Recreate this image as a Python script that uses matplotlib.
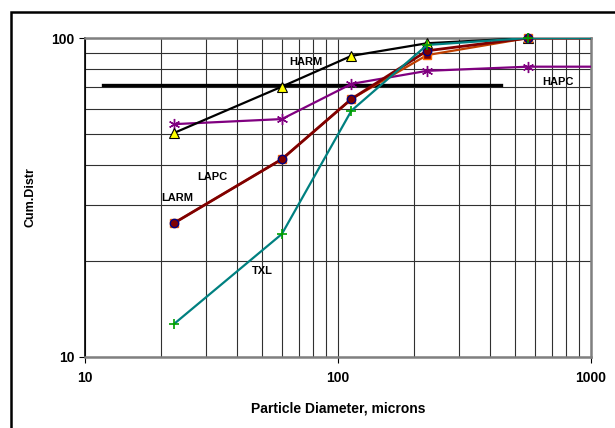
import matplotlib
matplotlib.use("Agg")
import matplotlib.pyplot as plt
from matplotlib.patches import Rectangle
from matplotlib.ticker import LogLocator, NullFormatter, FixedLocator

plt.rcParams["font.family"] = ["Liberation Sans", "DejaVu Sans"]
plt.rcParams["font.weight"] = "bold"

# --- data ---
diameter = [22.5, 60, 113, 225, 565, 1000]
harm = [50.4, 70.4, 87.9, 96.3, 100, 100]
lapc = [26.3, 41.7, 64.4, 88.4, 100, 100]
larm = [26.3, 41.7, 64.4, 91.2, 100, 100]
hapc = [53.7, 55.7, 71.8, 78.9, 81.3, 81.3]
txl = [12.7, 24.3, 59.2, 95.1, 100, 100]

ref_x = [11.8, 441]
ref_y = [71.1, 71.1]

labels = {
    "HARM": (64.4, 84.1),
    "LAPC": (27.7, 36.6),
    "LARM": (20.1, 31.5),
    "TXL": (45.6, 18.6),
    "HAPC": (641, 72.8),
}

fig = plt.figure(figsize=(6.15, 4.28), dpi=100)
ax = fig.add_axes([0.1382, 0.1659, 0.8228, 0.7453])

# outer chart frame
fig.patches.append(Rectangle((11 / 615, -0.05), 1.1, 1 - 12 / 428 + 0.05,
                             transform=fig.transFigure, fill=False,
                             edgecolor="black", linewidth=1.8))

ax.set_xscale("log")
ax.set_yscale("log")
ax.set_xlim(10, 1000)
ax.set_ylim(10, 100)

ax.xaxis.set_major_locator(FixedLocator([10, 100, 1000]))
ax.yaxis.set_major_locator(FixedLocator([10, 100]))
ax.xaxis.set_minor_locator(LogLocator(base=10, subs=range(2, 10)))
ax.yaxis.set_minor_locator(LogLocator(base=10, subs=range(2, 10)))
ax.xaxis.set_minor_formatter(NullFormatter())
ax.yaxis.set_minor_formatter(NullFormatter())
ax.set_xticklabels(["10", "100", "1000"])
ax.set_yticklabels(["10", "100"])

ax.grid(True, which="both", color="#303030", linewidth=0.8)
ax.set_axisbelow(True)
ax.tick_params(which="minor", length=0)
ax.tick_params(which="major", length=4, width=0.8, direction="out",
               labelsize=10, colors="black")
ax.tick_params(axis="x", pad=6)

for side in ("top", "right", "bottom"):
    ax.spines[side].set_color("#808080")
    ax.spines[side].set_linewidth(1.8)
ax.spines["left"].set_color("black")
ax.spines["left"].set_linewidth(1.2)

lw = 1.6
mk = 5  # markers only on measured points
ax.plot(ref_x, ref_y, color="black", linewidth=2.4, zorder=3)
series = [
    (hapc, dict(color="#800080", linewidth=lw, marker=(6, 2, 0), markersize=8,
                markeredgecolor="#800080", zorder=4)),
    (harm, dict(color="black", linewidth=lw, marker="^", markersize=7,
                markerfacecolor="#ffff00", markeredgecolor="black",
                markeredgewidth=0.8, zorder=4)),
    (lapc, dict(color="#c04000", linewidth=lw, marker="s", markersize=6,
                markerfacecolor="#800000", markeredgecolor="#ff6600", zorder=5)),
    (larm, dict(color="#800000", linewidth=lw + 0.4, marker="o", markersize=6,
                markerfacecolor="#800000", markeredgecolor="#000080", zorder=6)),
    (txl, dict(color="#008080", linewidth=lw, marker="+", markersize=7,
               markeredgecolor="#00a000", markeredgewidth=1.2, zorder=7)),
]
for values, style in series:
    # line clipped to the plot area, markers drawn unclipped on top
    ax.plot(diameter, values, color=style["color"],
            linewidth=style["linewidth"], zorder=style["zorder"])
    mstyle = {k: v for k, v in style.items() if k.startswith("marker")}
    ax.plot(diameter[:mk], values[:mk], linestyle="none", clip_on=False,
            zorder=style["zorder"] + 0.5, **mstyle)

for name, (x, y) in labels.items():
    ax.text(x, y, name, fontsize=8, fontweight="bold", ha="left", va="center",
            zorder=8)

ax.set_xlabel("Particle Diameter, microns", fontsize=10, fontweight="bold",
              labelpad=12)
ax.set_ylabel("Cum.Distr", fontsize=9, fontweight="bold", labelpad=11)

fig.savefig("out.png", dpi=100)
